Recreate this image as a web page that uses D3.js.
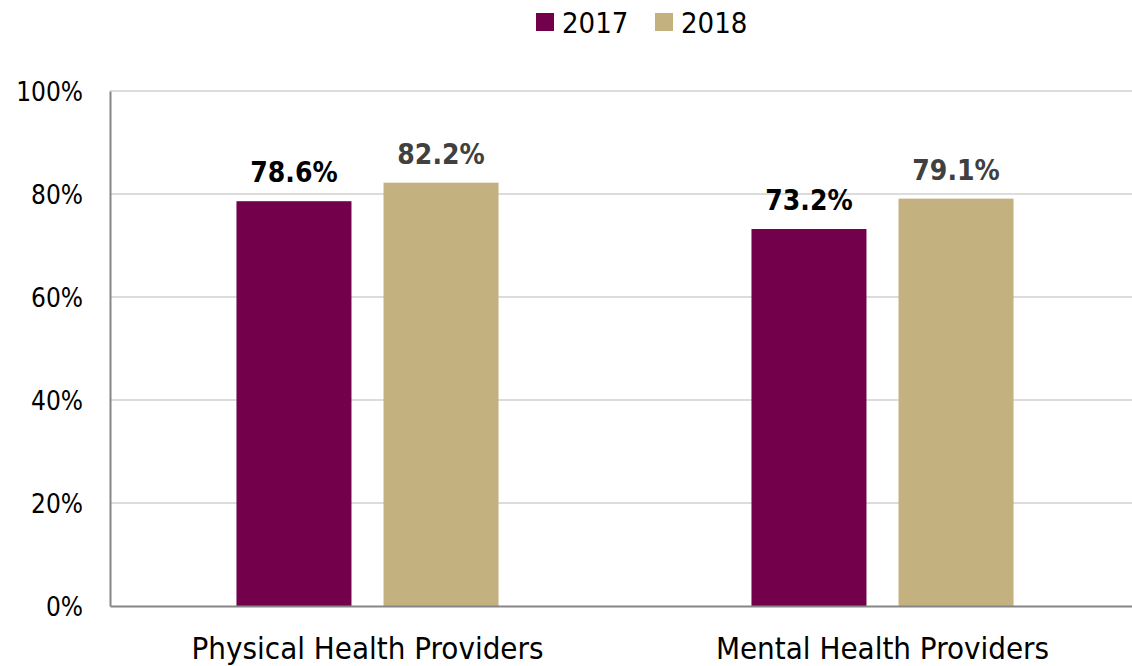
<!DOCTYPE html>
<html>
<head>
<meta charset="utf-8">
<script src="https://cdn.jsdelivr.net/npm/d3@7/dist/d3.min.js"></script>
<style>
  html, body { margin: 0; padding: 0; background: #fff; }
  svg { display: block; }
  text { font-family: "DejaVu Sans Condensed", "DejaVu Sans", sans-serif; }
</style>
</head>
<body>
<svg id="chart" width="1132" height="666"></svg>
<script>
// Share of providers, by provider type and year
const categories = ["Physical Health Providers", "Mental Health Providers"];
const seriesNames = ["2017", "2018"];
const values2017 = [78.6, 73.2];
const values2018 = [82.2, 79.1];
const yTicks = [0, 20, 40, 60, 80, 100];
const seriesColors = ["#72004B", "#C3B17F"];
const labelColors = ["#000000", "#404040"];

const seriesValues = [values2017, values2018];
const rows = categories.map((c, i) => ({
  category: c,
  bars: seriesNames.map((s, j) => ({ series: s, idx: j, value: seriesValues[j][i] }))
}));

const svg = d3.select("#chart");
const plot = { left: 110, right: 1140, top: 91, bottom: 606 };

const x0 = d3.scaleBand().domain(categories).range([plot.left, plot.right]).padding(0);
const x1 = d3.scaleBand().domain(seriesNames).range([0, x0.bandwidth()])
  .paddingInner(0.218).paddingOuter(0.86);
const y = d3.scaleLinear().domain([0, 100]).range([plot.bottom, plot.top]);

// horizontal gridlines
svg.append("g")
  .selectAll("line")
  .data(yTicks.filter(t => t > 0))
  .join("line")
  .attr("x1", plot.left).attr("x2", plot.right)
  .attr("y1", d => y(d)).attr("y2", d => y(d))
  .attr("stroke", "#DCDCDC").attr("stroke-width", 2);

// y axis
const yAxis = svg.append("g")
  .attr("transform", `translate(${plot.left},0)`)
  .call(d3.axisLeft(y).tickValues(yTicks).tickFormat(d => d + "%").tickSize(0).tickPadding(27));
yAxis.select(".domain").attr("stroke", "#868686").attr("stroke-width", 2);
yAxis.selectAll("text")
  .attr("font-size", 26)
  .attr("fill", "#000")
  .attr("dy", "0.36em")
  .style("font-family", '"DejaVu Sans Condensed", "DejaVu Sans", sans-serif');

// bars
const groups = svg.append("g")
  .selectAll("g")
  .data(rows)
  .join("g")
  .attr("transform", d => `translate(${x0(d.category)},0)`);

groups.selectAll("rect")
  .data(d => d.bars)
  .join("rect")
  .attr("x", d => x1(d.series))
  .attr("width", x1.bandwidth())
  .attr("y", d => y(d.value))
  .attr("height", d => y(0) - y(d.value))
  .attr("fill", d => seriesColors[d.idx]);

// value labels
groups.selectAll("text")
  .data(d => d.bars)
  .join("text")
  .attr("x", d => x1(d.series) + x1.bandwidth() / 2)
  .attr("y", d => y(d.value) - 19)
  .attr("text-anchor", "middle")
  .attr("font-size", 28)
  .attr("font-weight", "bold")
  .attr("fill", d => labelColors[d.idx])
  .text(d => d.value.toFixed(1) + "%");

// x axis baseline
const xAxis = svg.append("g")
  .attr("transform", `translate(0,${plot.bottom})`)
  .call(d3.axisBottom(x0).tickSize(0).tickPadding(31));
xAxis.select(".domain").attr("stroke", "#868686").attr("stroke-width", 2);
xAxis.selectAll("text")
  .attr("font-size", 31)
  .attr("fill", "#000")
  .attr("dy", "0.71em")
  .style("font-family", '"DejaVu Sans Condensed", "DejaVu Sans", sans-serif');

// legend
const legend = svg.append("g");
const legendX = [536, 655];
seriesNames.forEach((s, i) => {
  const g = legend.append("g").attr("transform", `translate(${legendX[i]},13)`);
  g.append("rect").attr("width", 18).attr("height", 18).attr("fill", seriesColors[i]);
  g.append("text").attr("x", 26).attr("y", 20).attr("font-size", 29).attr("fill", "#000").text(s);
});
</script>
</body>
</html>
